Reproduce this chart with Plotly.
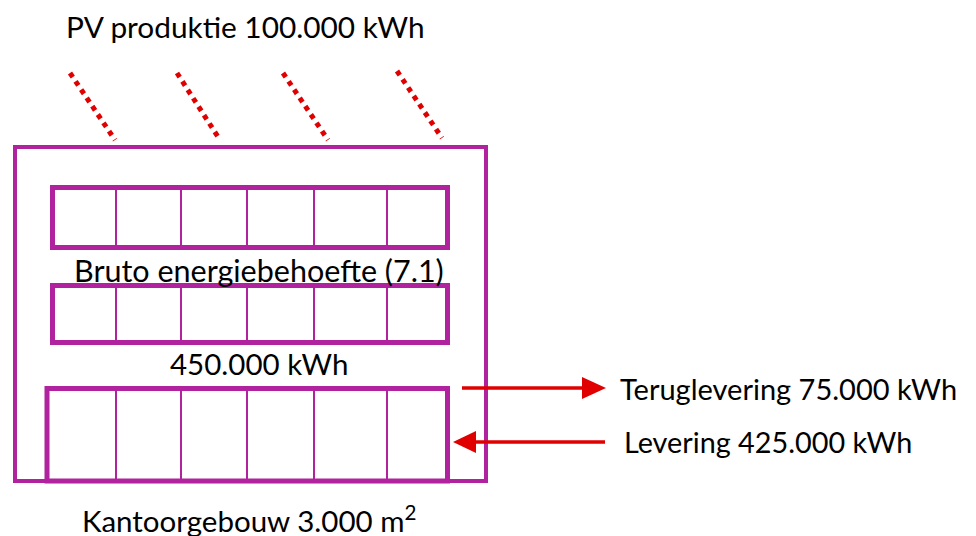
import plotly.graph_objects as go

# ---- content ----
title_label = "PV produktie 100.000 kWh"
demand_label = "Bruto energiebehoefte (7.1)"
demand_value = "450.000 kWh"
building_label = "Kantoorgebouw 3.000 m<sup>2</sup>"
flow_labels = ["Teruglevering 75.000 kWh", "Levering 425.000 kWh"]
flow_direction = ["out", "in"]
n_panel_rows = 3
n_cells = 6

PURPLE = "#B0229E"
RED = "#E00000"
FONT = "Lato"

W, H = 976, 536
PAD = 8  # page body margin
fig = go.Figure()
shapes = []
annotations = []

# outer building
shapes.append(dict(type="rect", x0=15, y0=147, x1=486, y1=481,
                   line=dict(color=PURPLE, width=4)))

# panel rows (x0, x1, y0, y1)
rows = [(52.5, 447.5, 187.5, 247.5), (52.5, 447.5, 285.5, 342.5), (47, 447.5, 388.5, 481)]
dividers = [116, 181, 247, 314, 387]
for (x0, x1, y0, y1) in rows[:n_panel_rows]:
    shapes.append(dict(type="rect", x0=x0, y0=y0, x1=x1, y1=y1,
                       line=dict(color=PURPLE, width=5)))
    for dx in dividers[:n_cells - 1]:
        shapes.append(dict(type="line", x0=dx, y0=y0, x1=dx, y1=y1,
                           line=dict(color=PURPLE, width=2)))

# sun rays (dotted)
rays = [(70, 73, 115, 140), (177, 73, 220, 140), (283, 73, 328, 140), (397, 71, 442, 138)]
for (x0, y0, x1, y1) in rays:
    shapes.append(dict(type="line", x0=x0, y0=y0, x1=x1, y1=y1,
                       line=dict(color=RED, width=5, dash="5px,5px")))

# flow arrows
arrow_y = [388, 442]
for d, y in zip(flow_direction, arrow_y):
    if d == "out":
        x_start, tip, base = 462, 606, 582
    else:
        x_start, tip, base = 605, 453, 476
    shapes.append(dict(type="line", x0=x_start, y0=y, x1=base, y1=y,
                       line=dict(color=RED, width=3.5)))
    shapes.append(dict(type="path",
                       path=f"M {tip} {y} L {base} {y-11} L {base} {y+11} Z",
                       fillcolor=RED, line=dict(color=RED, width=0)))

def label(text, x, y, size, anchor="center"):
    annotations.append(dict(text=text, x=x, y=y, xref="x", yref="y",
                            showarrow=False, xanchor=anchor, yanchor="middle",
                            font=dict(family=FONT, size=size, color="#000000")))

label(title_label, 245, 26, 29.8)
label(demand_label, 259, 270, 30.5)
label(demand_value, 259, 363, 29.5)
label(building_label, 249, 519, 29.5)
label(flow_labels[0], 618, 388, 29)
label(flow_labels[1], 622, 442, 28.8)
annotations[-2]["xanchor"] = "left"
annotations[-1]["xanchor"] = "left"

fig.update_layout(
    width=W - PAD, height=H - PAD,
    margin=dict(l=0, r=0, t=0, b=0),
    paper_bgcolor="white", plot_bgcolor="white",
    xaxis=dict(range=[PAD, W], visible=False, fixedrange=True),
    yaxis=dict(range=[H, PAD], visible=False, fixedrange=True),
    shapes=shapes, annotations=annotations, showlegend=False,
)
fig.write_html("out.html", config={"displayModeBar": False})
